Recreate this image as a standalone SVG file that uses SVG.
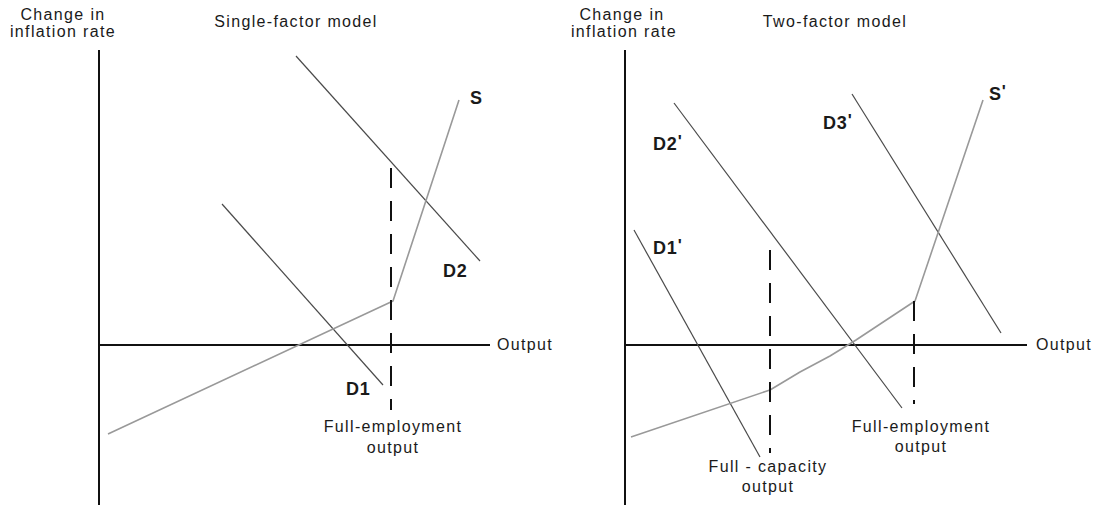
<svg xmlns="http://www.w3.org/2000/svg" width="1102" height="507" viewBox="0 0 1102 507">
<style>
text{font-family:"Liberation Sans",Arial,sans-serif;fill:#1a1a1a}
.t{font-size:16px;letter-spacing:1.35px}
.b{font-size:18px;font-weight:bold;letter-spacing:0.8px}
.p{font-size:17px;font-weight:bold}
.ax{stroke:#111;stroke-width:2;fill:none}
.dash{stroke:#111;stroke-width:2;stroke-dasharray:20 13;fill:none}
.d{stroke:#4a4a4a;stroke-width:1.2;fill:none}
.s{stroke:#999;stroke-width:1.6;fill:none;stroke-linejoin:round}
</style>
<rect width="1102" height="507" fill="#fff"/>
<g id="left-panel">
  <g id="left-axes">
    <line class="ax" x1="99" y1="50" x2="99" y2="505"/>
    <line class="ax" x1="99" y1="345" x2="490" y2="345"/>
    <text class="t" x="63" y="20" text-anchor="middle">Change in</text>
    <text class="t" x="63" y="37" text-anchor="middle">inflation rate</text>
    <text class="t" x="497" y="350">Output</text>
    <text class="t" x="296" y="27" text-anchor="middle">Single-factor model</text>
  </g>
  <g id="left-connectors">
    <line class="d" x1="296" y1="56" x2="480" y2="261"/>
    <line class="d" x1="222" y1="204" x2="383" y2="385"/>
    <polyline class="s" points="108,434 393,301 459,100"/>
    <line class="dash" x1="391" y1="168" x2="391" y2="410"/>
  </g>
  <g id="left-S"><text class="b" x="470" y="104">S</text></g>
  <g id="left-D2"><text class="b" x="443" y="277">D2</text></g>
  <g id="left-D1"><text class="b" x="346" y="395">D1</text></g>
  <g id="left-fe">
    <text class="t" x="393" y="432" text-anchor="middle">Full-employment</text>
    <text class="t" x="393" y="453" text-anchor="middle">output</text>
  </g>
</g>
<g id="right-panel">
  <g id="right-axes">
    <line class="ax" x1="625" y1="50" x2="625" y2="505"/>
    <line class="ax" x1="625" y1="345" x2="1027" y2="345"/>
    <text class="t" x="622" y="20" text-anchor="middle">Change in</text>
    <text class="t" x="624" y="37" text-anchor="middle">inflation rate</text>
    <text class="t" x="1036" y="350">Output</text>
    <text class="t" x="835" y="27" text-anchor="middle">Two-factor model</text>
  </g>
  <g id="right-connectors">
    <line class="d" x1="674" y1="103" x2="902" y2="408"/>
    <line class="d" x1="852" y1="94" x2="1001" y2="333"/>
    <line class="d" x1="634" y1="230" x2="760" y2="457"/>
    <polyline class="s" points="631,437 770,390 800,372 830,356 856,340 915,301 983,100"/>
    <line class="dash" x1="770" y1="250" x2="770" y2="453"/>
    <line class="dash" x1="914" y1="301" x2="914" y2="404"/>
  </g>
  <g id="right-S"><text class="b" x="989" y="100">S<tspan class="p" dy="-3">'</tspan></text></g>
  <g id="right-D3"><text class="b" x="823" y="129">D3<tspan class="p" dy="-3">'</tspan></text></g>
  <g id="right-D2"><text class="b" x="653" y="150">D2<tspan class="p" dy="-3">'</tspan></text></g>
  <g id="right-D1"><text class="b" x="653" y="254">D1<tspan class="p" dy="-3">'</tspan></text></g>
  <g id="right-fe">
    <text class="t" x="921" y="432" text-anchor="middle">Full-employment</text>
    <text class="t" x="921" y="452" text-anchor="middle">output</text>
  </g>
  <g id="right-fc">
    <text class="t" x="768" y="472" text-anchor="middle">Full - capacity</text>
    <text class="t" x="768" y="492" text-anchor="middle">output</text>
  </g>
</g>
</svg>
